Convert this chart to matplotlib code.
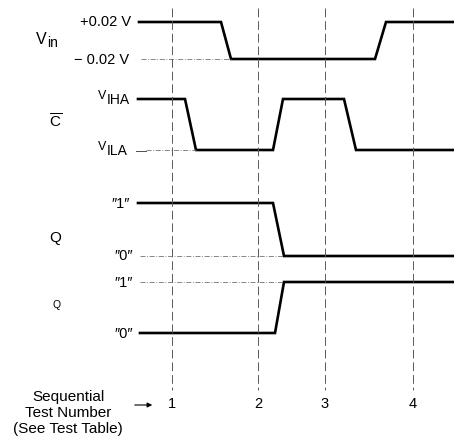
import matplotlib
matplotlib.use('Agg')
import matplotlib.pyplot as plt

plt.rcParams['font.family'] = ['Liberation Sans', 'DejaVu Sans']

# time axis (horizontal units of the diagram), test instants
test_t = [172, 258, 325, 413]
test_labels = ['1', '2', '3', '4']

# waveforms: breakpoints (t) and logic level (1 = high, 0 = low)
vin_t = [139, 221, 231, 375, 386, 454]
vin_lv = [1, 1, 0, 0, 1, 1]
cbar_t = [138, 185, 196, 273, 283, 344, 356, 454]
cbar_lv = [1, 1, 0, 0, 1, 1, 0, 0]
q_t = [138, 273, 284, 454]
q_lv = [1, 1, 0, 0]
qb_t = [140, 275, 284, 454]
qb_lv = [0, 0, 1, 1]

# vertical placement of each trace (high row, low row)
rows = {'vin': (22, 59), 'cbar': (99, 150), 'q': (203, 256), 'qb': (282, 333)}

fig = plt.figure(figsize=(4.54, 4.42), dpi=100)
ax = fig.add_axes([0, 0, 1, 1])
ax.set_xlim(0, 454); ax.set_ylim(442, 0); ax.axis('off')

def trace(t, lv, key):
    hi, lo = rows[key]
    ax.plot(t, [hi if v else lo for v in lv], color='black', lw=1.9, solid_joinstyle='miter')

trace(vin_t, vin_lv, 'vin')
trace(cbar_t, cbar_lv, 'cbar')
trace(q_t, q_lv, 'q')
trace(qb_t, qb_lv, 'qb')

# reference dashed levels
ref = dict(color='0.45', lw=0.6, dashes=(6, 2, 1, 2))
ax.plot([141, 231], [rows['vin'][1]] * 2, **ref)
ax.plot([146, 196], [rows['cbar'][1]] * 2, **ref)
ax.plot([140, 284], [rows['q'][1]] * 2, **ref)
ax.plot([140, 284], [rows['qb'][0]] * 2, **ref)

# test instant markers
for t in test_t:
    ax.plot([t, t], [8, 390], color='0.35', lw=0.7, dashes=(9, 4))
for t, s in zip(test_t, test_labels):
    ax.text(t, 404, s, ha='center', va='center', fontsize=10.5)

fs = 10.5
q2 = '\u2033'
ax.text(131, 22, '+0.02 V', ha='right', va='center', fontsize=fs)
ax.text(129, 60, '\u2212 0.02 V', ha='right', va='center', fontsize=fs)
ax.text(36, 40, 'V', ha='left', va='center', fontsize=11.5)
ax.text(47, 43, 'in', ha='left', va='center', fontsize=10)
# V_IHA / V_ILA: small raised V followed by full size letters
ax.text(106, 96, 'V', ha='right', va='center', fontsize=9)
ax.text(107, 100, 'IHA', ha='left', va='center', fontsize=10)
ax.text(106, 147, 'V', ha='right', va='center', fontsize=9)
ax.text(107, 151, 'ILA', ha='left', va='center', fontsize=10)
ax.plot([136, 146], [151, 151], color='0.3', lw=0.7)
ax.text(56, 122, r'$\mathregular{\overline{C}}$', ha='center', va='center', fontsize=11)
ax.text(130, 204, q2 + '1' + q2, ha='right', va='center', fontsize=fs)
ax.text(133, 256, q2 + '0' + q2, ha='right', va='center', fontsize=fs)
ax.text(55, 238, 'Q', ha='center', va='center', fontsize=11)
ax.text(133, 283, q2 + '1' + q2, ha='right', va='center', fontsize=fs)
ax.text(133, 334, q2 + '0' + q2, ha='right', va='center', fontsize=fs)
ax.text(57, 305, 'Q', ha='center', va='center', fontsize=7.5)

ax.text(68, 413, 'Sequential\nTest Number\n(See Test Table)', ha='center', va='center',
        fontsize=11, linespacing=1.22)
ax.annotate('', xy=(155, 405), xytext=(132, 405),
            arrowprops=dict(arrowstyle='-|>', color='black', lw=0.8, mutation_scale=7))

fig.savefig('out.png', dpi=100)
